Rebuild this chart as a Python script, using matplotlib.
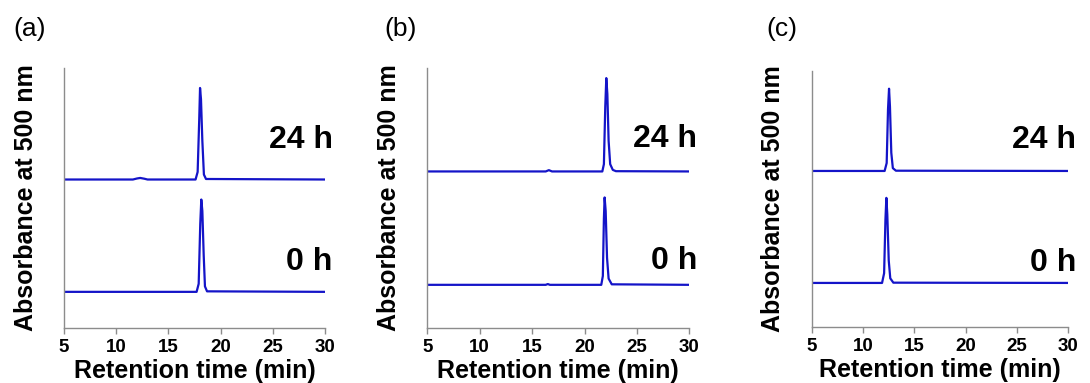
import matplotlib
matplotlib.use("Agg")
import matplotlib.pyplot as plt

plt.rcParams['font.family'] = ['Liberation Sans', 'DejaVu Sans']

# (a) retention time (min) / absorbance (offset, arbitrary units)
a_24h_t = [5, 11.6, 12.0, 12.3, 12.7, 13.0, 17.6, 17.8, 17.95, 18.03, 18.12, 18.25, 18.4, 18.6, 30]
a_24h_y = [0.571, 0.571, 0.575, 0.577, 0.574, 0.571, 0.571, 0.60, 0.80, 0.923, 0.88, 0.72, 0.59, 0.573, 0.571]
a_0h_t = [5, 17.7, 17.9, 18.05, 18.15, 18.25, 18.38, 18.5, 18.7, 30]
a_0h_y = [0.139, 0.139, 0.17, 0.40, 0.494, 0.45, 0.28, 0.16, 0.141, 0.139]

# (b)
b_24h_t = [5, 16.3, 16.6, 16.9, 21.7, 21.85, 21.98, 22.08, 22.18, 22.3, 22.45, 22.7, 23.0, 30]
b_24h_y = [0.602, 0.602, 0.607, 0.602, 0.602, 0.63, 0.85, 0.961, 0.90, 0.72, 0.63, 0.608, 0.603, 0.602]
b_0h_t = [5, 16.3, 16.5, 16.7, 21.6, 21.75, 21.85, 21.92, 22.02, 22.15, 22.3, 22.6, 30]
b_0h_y = [0.166, 0.166, 0.169, 0.166, 0.166, 0.20, 0.42, 0.502, 0.45, 0.27, 0.19, 0.168, 0.166]

# (c)
c_24h_t = [5, 12.1, 12.3, 12.43, 12.53, 12.62, 12.75, 12.9, 13.2, 30]
c_24h_y = [0.609, 0.609, 0.64, 0.85, 0.93, 0.86, 0.68, 0.62, 0.610, 0.609]
c_0h_t = [5, 11.85, 12.05, 12.18, 12.27, 12.36, 12.5, 12.65, 12.95, 30]
c_0h_y = [0.172, 0.172, 0.21, 0.42, 0.504, 0.44, 0.26, 0.19, 0.173, 0.172]

panel_tags = ['(a)', '(b)', '(c)']
time_labels = ['24 h', '0 h']
xticks = [5, 10, 15, 20, 25, 30]

traces = [
    [(a_24h_t, a_24h_y), (a_0h_t, a_0h_y)],
    [(b_24h_t, b_24h_y), (b_0h_t, b_0h_y)],
    [(c_24h_t, c_24h_y), (c_0h_t, c_0h_y)],
]
# label heights (axes fraction) for "24 h" and "0 h" in each panel
label_y = [[0.723, 0.254], [0.727, 0.258], [0.73, 0.25]]

line_color = '#1414c8'
spine_color = '#8c8c8c'

fig = plt.figure(figsize=(10.9, 3.83), dpi=100)
boxes = [
    [0.0587, 0.1436, 0.2395, 0.679],
    [0.3920, 0.1436, 0.2404, 0.679],
    [0.7447, 0.1462, 0.2355, 0.669],
]
tag_x = [0.012, 0.353, 0.703]

for i, box in enumerate(boxes):
    ax = fig.add_axes(box)
    for t, y in traces[i]:
        ax.plot(t, y, color=line_color, lw=1.6)
    ax.set_xlim(5, 30)
    ax.set_ylim(0, 1)
    ax.set_xticks(xticks)
    ax.set_yticks([])
    for s in ['top', 'right']:
        ax.spines[s].set_visible(False)
    for s in ['left', 'bottom']:
        ax.spines[s].set_color(spine_color)
        ax.spines[s].set_linewidth(1.0)
    ax.tick_params(axis='x', colors=spine_color, length=4, width=1.0,
                   labelsize=13.5, labelcolor='black', pad=4)
    for lab in ax.get_xticklabels():
        lab.set_fontweight('bold')
    ax.set_xlabel('Retention time (min)', fontsize=18, fontweight='bold', labelpad=2)
    ax.set_ylabel('Absorbance at 500 nm', fontsize=18, fontweight='bold', labelpad=19)
    for lab, ly in zip(time_labels, label_y[i]):
        ax.text(1.03, ly, lab, transform=ax.transAxes, ha='right', va='center',
                fontsize=23, fontweight='bold')
    fig.text(tag_x[i], 0.925, panel_tags[i], fontsize=19, ha='left', va='center')

fig.savefig('out.png', dpi=100)
